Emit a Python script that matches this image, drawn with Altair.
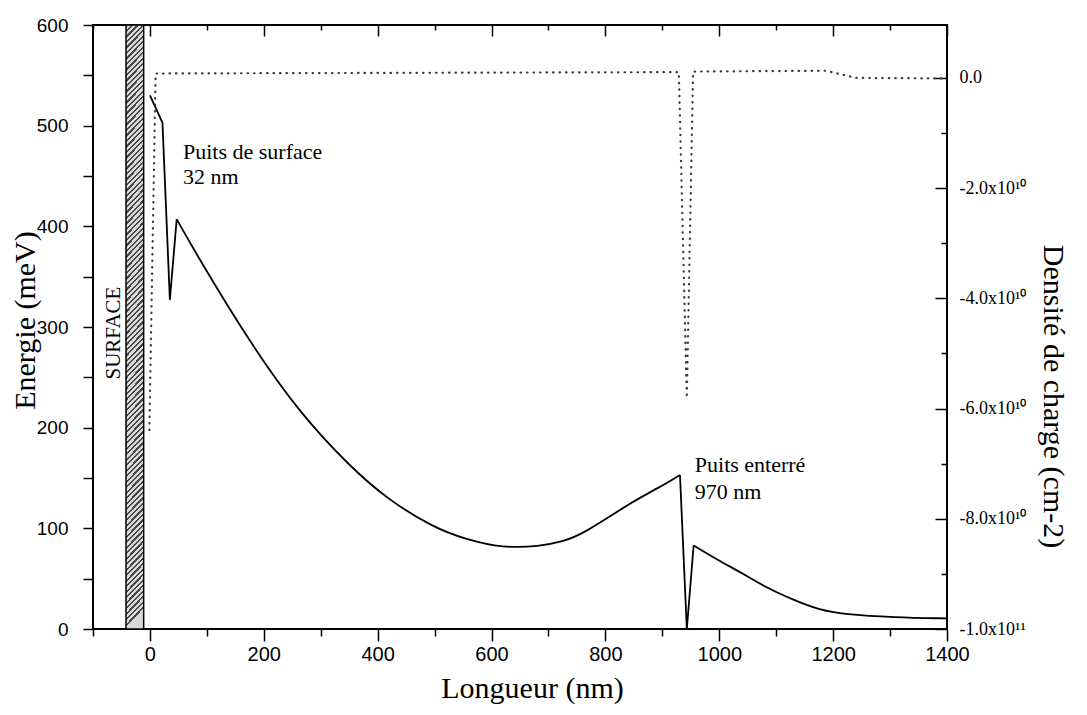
import altair as alt
import pandas as pd

# ---------------- data ----------------
# Energy profile (meV) versus position (nm) - smooth parts
curve1_x = [47, 85, 175, 265, 354, 417, 497, 555, 620, 684, 725, 760, 847, 893, 931]
curve1_y = [407, 369, 285, 213, 160, 129, 101, 89, 80.5, 82, 87, 94, 126.5, 140, 153]
curve2_x = [955, 999, 1042, 1086, 1130, 1175, 1219, 1307, 1400]
curve2_y = [83, 68, 55, 40, 29, 19, 14.5, 11.5, 10.5]
# sharp quantum-well parts
well1_x = [0, 22, 35, 47]
well1_y = [530, 503, 327, 407]
well2_x = [931, 943, 955]
well2_y = [153, 0, 83]
# charge density (cm-2), dotted
charge_x = [-1, 10, 929, 943, 954, 1187, 1240, 1400]
charge_y = [-6.39e10, 0.08e10, 0.105e10, -5.81e10, 0.115e10, 0.13e10, 0.0, -0.01e10]
# surface layer (hatched bar)
surface_x = [-42, -11]
surface_y = [0, 600]
# tick values
x_major = [0, 200, 400, 600, 800, 1000, 1200, 1400]
x_minor = [-100, 100, 300, 500, 700, 900, 1100, 1300]
e_ticks = [0, 50, 100, 150, 200, 250, 300, 350, 400, 450, 500, 550, 600]
q_major = [0, -2e10, -4e10, -6e10, -8e10, -1e11]
q_minor = [-1e10, -3e10, -5e10, -7e10, -9e10]
# annotations
ann_text = ["Puits de surface", "32 nm", "Puits enterré", "970 nm"]
ann_x = [58, 58, 957, 957]
ann_y = [467, 442, 156, 129]
surf_text = ["SURFACE"]
surf_tx = [-63]
surf_ty = [294]

# ---------------- tables ----------------
curve_df = pd.DataFrame({
    "x": curve1_x + curve2_x,
    "y": curve1_y + curve2_y,
    "seg": ["a"] * len(curve1_x) + ["b"] * len(curve2_x),
})
well_df = pd.DataFrame({
    "x": well1_x + well2_x,
    "y": well1_y + well2_y,
    "seg": ["a"] * len(well1_x) + ["b"] * len(well2_x),
})
q_df = pd.DataFrame({"x": charge_x, "q": charge_y})
surf_df = pd.DataFrame({"x0": [surface_x[0]], "x1": [surface_x[1]],
                        "y0": [surface_y[0]], "y1": [surface_y[1]]})
ann_df = pd.DataFrame({"x": ann_x, "y": ann_y, "t": ann_text})
stxt_df = pd.DataFrame({"x": surf_tx, "y": surf_ty, "t": surf_text})

SERIF = "Liberation Serif"
SANS = "Liberation Sans"

xs = alt.Scale(domain=[-100, 1400], nice=False, zero=False)
es = alt.Scale(domain=[0, 600], nice=False, zero=False)
qs = alt.Scale(domain=[-1e11, 0.96e10], nice=False, zero=False)

# hatch pattern imitated with a striped gradient
N = 110
stops = []
for i in range(N):
    o = i / N
    m = (i + 0.42) / N
    e = (i + 1) / N
    stops += [alt.GradientStop(color="#474747", offset=o),
              alt.GradientStop(color="#474747", offset=m),
              alt.GradientStop(color="#dadada", offset=m),
              alt.GradientStop(color="#dadada", offset=min(e, 1.0))]
hatch = alt.LinearGradient(gradient="linear", stops=stops, x1=0, y1=0, x2=0.03, y2=1)

# ---------------- axes ----------------
x_bottom_major = alt.Axis(orient="bottom", values=x_major, format="d", tickSize=12,
                          tickWidth=1.5, tickColor="black", domain=False, grid=False,
                          labelFont=SANS, labelFontSize=20, labelColor="black",
                          labelPadding=3, labelFlush=False, labelOverlap=False,
                          title="Longueur (nm)", titleFont=SERIF, titleFontSize=30,
                          titleFontWeight="normal", titleColor="black",
                          titleX=439, titleY=68, titleAlign="center",
                          titleBaseline="alphabetic")
x_bottom_minor = alt.Axis(orient="bottom", values=x_minor, tickSize=7, tickWidth=1.5,
                          tickColor="black", domain=False, grid=False, labels=False,
                          title=None)
x_top_major = alt.Axis(orient="top", values=x_major, tickSize=11, tickWidth=1.5,
                       offset=-11, tickColor="black", domain=False, grid=False,
                       labels=False, title=None)
x_top_minor = alt.Axis(orient="top", values=x_minor, tickSize=5, tickWidth=1.5,
                       offset=-5, tickColor="black", domain=False, grid=False,
                       labels=False, title=None)
y_left = alt.Axis(orient="left", values=e_ticks, tickSize=10, tickWidth=1.5,
                  tickColor="black", domain=False, grid=False,
                  labelExpr="datum.value % 100 == 0 ? datum.label : ''",
                  labelFont=SANS, labelFontSize=19, labelColor="black",
                  labelPadding=15, labelFlush=False, labelOverlap=False,
                  title="Energie (meV)", titleFont=SERIF, titleFontSize=30,
                  titleFontWeight="normal", titleColor="black", titleAngle=270,
                  titleX=-68, titleY=295, titleAlign="center", titleBaseline="middle")
q_label = ("datum.value == 0 ? '0.0' : (datum.value < -9.5e10 ? "
           "'-' + format(-datum.value / 1e11, '.1f') + 'x10\u00b9\u00b9' : "
           "'-' + format(-datum.value / 1e10, '.1f') + 'x10\u00b9\u2070')")
y_right_major = alt.Axis(orient="right", values=q_major, tickSize=12, tickWidth=1.5,
                         offset=-12, tickColor="black", domain=False, grid=False,
                         labelExpr=q_label, labelFont=SERIF, labelFontSize=18,
                         labelColor="black", labelPadding=12, labelFlush=False,
                         labelOverlap=False,
                         title="Densité de charge (cm-2)", titleFont=SERIF,
                         titleFontSize=30, titleFontWeight="normal", titleColor="black",
                         titleAngle=90, titleX=117, titleY=371, titleAlign="center",
                         titleBaseline="middle")
y_right_minor = alt.Axis(orient="right", values=q_minor, tickSize=6, tickWidth=1.5,
                         offset=-6, tickColor="black", domain=False, grid=False,
                         labels=False, title=None)

# ---------------- layers ----------------
surf = alt.Chart(surf_df).mark_rect(fill=hatch, stroke="black", strokeWidth=1.5).encode(
    x=alt.X("x0:Q", scale=xs, axis=None), x2="x1:Q",
    y=alt.Y("y0:Q", scale=es, axis=None), y2="y1:Q")

curve = alt.Chart(curve_df).mark_line(interpolate="basis", color="black",
                                      strokeWidth=1.8).encode(
    x=alt.X("x:Q", scale=xs, axis=x_bottom_major),
    y=alt.Y("y:Q", scale=es, axis=y_left),
    detail="seg:N")

wells = alt.Chart(well_df).mark_line(color="black", strokeWidth=1.8).encode(
    x=alt.X("x:Q", scale=xs, axis=x_bottom_minor),
    y=alt.Y("y:Q", scale=es, axis=None),
    detail="seg:N")

charge = alt.Chart(q_df).mark_line(color="#3a3a3a", strokeWidth=2.2,
                                   strokeDash=[0.5, 6], strokeCap="round").encode(
    x=alt.X("x:Q", scale=xs, axis=x_top_major),
    y=alt.Y("q:Q", scale=qs, axis=y_right_major))

charge_ticks = alt.Chart(q_df).mark_line(opacity=0).encode(
    x=alt.X("x:Q", scale=xs, axis=x_top_minor),
    y=alt.Y("q:Q", scale=qs, axis=y_right_minor))

ann = alt.Chart(ann_df).mark_text(font=SERIF, fontSize=22, align="left",
                                  baseline="alphabetic", color="black").encode(
    x=alt.X("x:Q", scale=xs, axis=None),
    y=alt.Y("y:Q", scale=es, axis=None),
    text="t:N")

stxt = alt.Chart(stxt_df).mark_text(font=SERIF, fontSize=21, angle=270, align="center",
                                    baseline="middle", color="black").encode(
    x=alt.X("x:Q", scale=xs, axis=None),
    y=alt.Y("y:Q", scale=es, axis=None),
    text="t:N")

chart = alt.layer(surf, curve, wells, charge, charge_ticks, ann, stxt).resolve_scale(
    x="independent", y="independent"
).properties(
    width=854, height=604,
    autosize=alt.AutoSizeParams(type="none"),
    padding={"left": 85, "top": 17, "right": 125, "bottom": 75},
    background="white",
).configure_view(stroke="black", strokeWidth=2).configure_axis(grid=False)

chart.save("out.html", embed_options={"renderer": "svg", "actions": False})
